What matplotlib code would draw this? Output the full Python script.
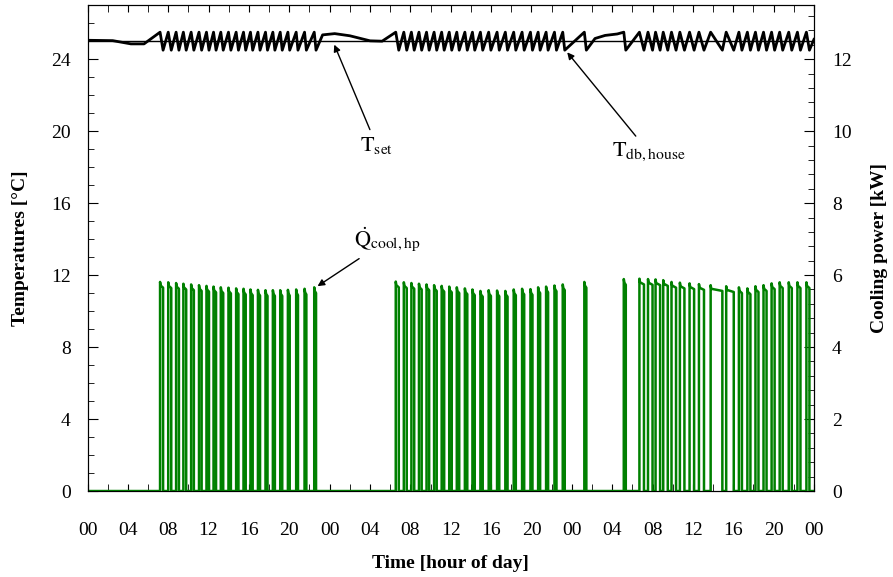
import numpy as np
import matplotlib
matplotlib.use('Agg')
import matplotlib.pyplot as plt
from matplotlib.ticker import MultipleLocator, FuncFormatter

plt.rcParams['font.family'] = ['Liberation Serif', 'DejaVu Serif']
plt.rcParams['mathtext.fontset'] = 'stix'

# heat pump cooling cycles: start [h], length [h], peak power [kW]
pulse_start = [7.19, 8.0, 8.78, 9.5, 10.27, 11.05, 11.79, 12.49, 13.21, 13.97, 14.73,
               15.46, 16.15, 16.89, 17.64, 18.37, 19.10, 19.86, 20.68, 21.51, 22.47,
               30.55, 31.35, 32.1, 32.85, 33.6, 34.35, 35.1, 35.85, 36.6, 37.4, 38.15,
               38.94, 39.76, 40.59, 41.41, 42.24, 43.07, 43.90, 44.66, 45.45, 46.28, 47.1,
               49.24, 53.15,
               54.7, 55.55, 56.3, 57.06, 57.88, 58.71, 59.67, 60.6, 61.76, 63.3,
               64.56, 65.4, 66.2, 67.0, 67.8, 68.6, 69.5, 70.36, 71.25]
pulse_len = [0.30, 0.30, 0.28, 0.28, 0.27, 0.26, 0.25, 0.25, 0.24, 0.24, 0.23,
             0.22, 0.22, 0.21, 0.20, 0.20, 0.20, 0.18, 0.18, 0.18, 0.18,
             0.30, 0.29, 0.28, 0.27, 0.26, 0.26, 0.25, 0.25, 0.24, 0.24, 0.23,
             0.23, 0.22, 0.22, 0.22, 0.21, 0.21, 0.20, 0.20, 0.20, 0.20, 0.20,
             0.20, 0.20,
             0.45, 0.45, 0.45, 0.45, 0.45, 0.45, 0.45, 0.50, 1.16, 0.75,
             0.30, 0.30, 0.30, 0.30, 0.30, 0.30, 0.30, 0.30, 0.30]
pulse_peak = [5.81, 5.80, 5.78, 5.76, 5.74, 5.72, 5.70, 5.68, 5.66, 5.65, 5.63,
              5.62, 5.60, 5.59, 5.58, 5.58, 5.58, 5.59, 5.60, 5.62, 5.66,
              5.82, 5.80, 5.78, 5.76, 5.74, 5.72, 5.70, 5.68, 5.66, 5.63, 5.60,
              5.56, 5.58, 5.57, 5.56, 5.60, 5.62, 5.61, 5.66, 5.68, 5.71, 5.74,
              5.81, 5.89,
              5.90, 5.89, 5.88, 5.86, 5.81, 5.79, 5.77, 5.75, 5.72, 5.69,
              5.66, 5.63, 5.69, 5.72, 5.77, 5.80, 5.80, 5.80, 5.80]

# house temperature while the heat pump is idle
idle_t = [0.0, 2.5, 4.3, 5.6, 23.3, 24.5, 26.0, 28.0, 29.2,
          50.3, 51.3, 52.5, 72.0]
idle_T = [25.05, 25.03, 24.85, 24.85, 25.35, 25.42, 25.3, 25.02, 25.0,
          25.15, 25.32, 25.4, 25.1]
T_high = 25.5   # temperature when compressor starts
T_low = 24.5    # temperature when compressor stops
T_set = 25.0

# build the series
q_t, q_v = [0.0], [0.0]
for s, d, p in zip(pulse_start, pulse_len, pulse_peak):
    q_t += [s, s, s + 0.06, s + d, s + d]
    q_v += [0.0, p, p - 0.1, p - 0.16, 0.0]
q_t.append(72.0)
q_v.append(0.0)

pts = list(zip(idle_t, idle_T))
for s, d in zip(pulse_start, pulse_len):
    pts += [(s, T_high), (s + d, T_low)]
pts.sort()
T_t = [a for a, b in pts]
T_v = [b for a, b in pts]

fig = plt.figure(figsize=(8.93, 5.77), dpi=100)
ax = fig.add_axes([0.098, 0.149, 0.8135, 0.842])
ax2 = ax.twinx()

ax.plot([0, 72], [T_set, T_set], color='black', lw=1.0)
ax.plot(T_t, T_v, color='black', lw=2.0)
ax2.plot(q_t, q_v, color='#008000', lw=1.8)

ax.set_xlim(0, 72)
ax.set_ylim(0, 27)
ax2.set_ylim(0, 13.5)

ax.xaxis.set_major_locator(MultipleLocator(4))
ax.xaxis.set_minor_locator(MultipleLocator(2))
ax.xaxis.set_major_formatter(FuncFormatter(lambda v, p: '%02d' % (int(round(v)) % 24)))
ax.yaxis.set_major_locator(MultipleLocator(4))
ax.yaxis.set_minor_locator(MultipleLocator(1))
ax2.yaxis.set_major_locator(MultipleLocator(2))
ax2.yaxis.set_minor_locator(MultipleLocator(0.4))

ax.tick_params(axis='x', which='both', direction='in', top=True, length=5, labelsize=14, pad=22)
ax.tick_params(axis='y', which='both', direction='in', right=False, labelsize=14, pad=12)
ax.tick_params(axis='y', which='major', length=7)
ax.tick_params(axis='y', which='minor', length=4)
ax2.tick_params(axis='y', which='both', direction='in', labelsize=14, pad=13)
ax2.tick_params(axis='y', which='major', length=7)
ax2.tick_params(axis='y', which='minor', length=4)

ax.set_xlabel('Time [hour of day]', fontsize=14, fontweight='bold', labelpad=12)
ax.set_ylabel('Temperatures [\u00b0C]', fontsize=14, fontweight='bold', labelpad=16)
ax2.set_ylabel('Cooling power [kW]', fontsize=14, fontweight='bold', labelpad=14)

arrow = dict(arrowstyle='-|>', color='black', lw=1.0, mutation_scale=10)
ax.annotate(r'$\mathrm{T}_{\mathrm{set}}$', xy=(24.35, 24.95), xytext=(27.0, 18.9),
            fontsize=16, arrowprops=arrow)
ax.annotate(r'$\mathrm{T}_{\mathrm{db,house}}$', xy=(47.37, 24.5), xytext=(52.0, 18.6),
            fontsize=16, arrowprops=arrow)
ax.annotate(r'$\dot{\mathrm{Q}}_{\mathrm{cool,hp}}$', xy=(22.57, 11.3), xytext=(26.4, 13.6),
            fontsize=16, arrowprops=arrow)

fig.savefig('out.png', dpi=100)
